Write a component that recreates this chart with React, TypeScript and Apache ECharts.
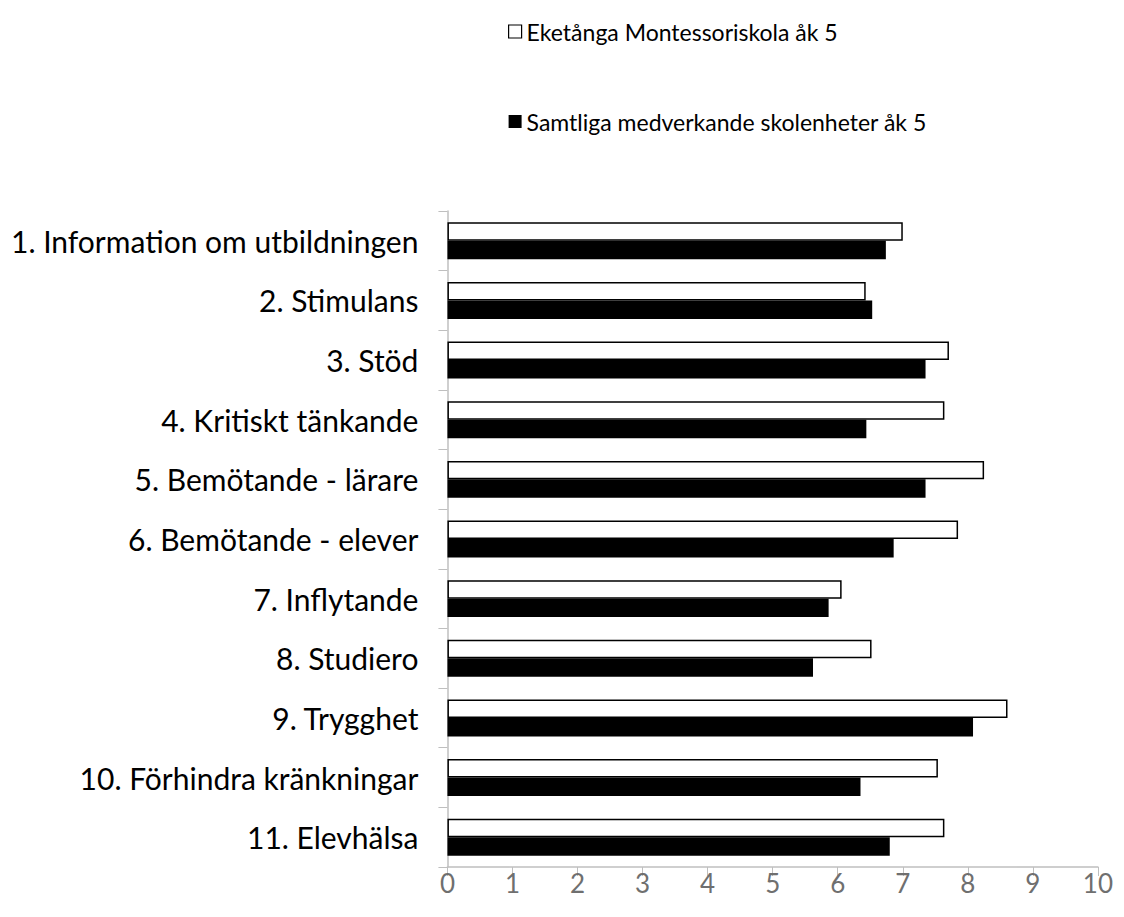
import React, { useEffect, useRef } from "react";
import * as echarts from "echarts";

const categories = [
  "1. Information om utbildningen",
  "2. Stimulans",
  "3. Stöd",
  "4. Kritiskt tänkande",
  "5. Bemötande - lärare",
  "6. Bemötande - elever",
  "7. Inflytande",
  "8. Studiero",
  "9. Trygghet",
  "10. Förhindra kränkningar",
  "11. Elevhälsa",
];
const schoolName = "Eketånga Montessoriskola åk 5";
const allName = "Samtliga medverkande skolenheter åk 5";
const schoolValues = [7.0, 6.43, 7.71, 7.64, 8.25, 7.85, 6.06, 6.52, 8.61, 7.54, 7.64];
const allValues = [6.74, 6.53, 7.35, 6.44, 7.35, 6.86, 5.86, 5.62, 8.08, 6.35, 6.8];
const xTicks = [0, 10];

export default function App() {
  const ref = useRef<HTMLDivElement>(null);
  useEffect(() => {
    if (!ref.current) return;
    const chart = echarts.init(ref.current, null, { renderer: "svg" });
    const font = "Lato, Open Sans, sans-serif";
    chart.setOption({
      animation: false,
      backgroundColor: "#ffffff",
      legend: {
        orient: "vertical",
        left: 500,
        top: 12,
        padding: 0,
        itemGap: 67,
        itemWidth: 13,
        itemHeight: 13,
        icon: "rect",
        textStyle: { fontFamily: font, fontSize: 23, color: "#000" },
        data: [
          { name: schoolName, itemStyle: { color: "#fff", borderColor: "#000", borderWidth: 1.2 } },
          { name: allName, itemStyle: { color: "#000" } },
        ],
      },
      grid: { left: 439, right: 11, top: 203, bottom: 42, containLabel: false },
      xAxis: {
        type: "value",
        min: xTicks[0],
        max: xTicks[1],
        interval: 1,
        axisLine: { show: true, lineStyle: { color: "#bfbfbf", width: 1.5 } },
        axisTick: { show: true, length: 9, lineStyle: { color: "#bfbfbf" } },
        splitLine: { show: false },
        axisLabel: { fontFamily: font, fontSize: 26, color: "#6f6f6f", margin: 3 },
      },
      yAxis: {
        type: "category",
        inverse: true,
        data: categories,
        axisLine: { show: true, lineStyle: { color: "#bfbfbf", width: 1.5 } },
        axisTick: { show: true, length: 9, lineStyle: { color: "#bfbfbf" } },
        axisLabel: { fontFamily: font, fontSize: 30, color: "#000", margin: 29 },
      },
      series: [
        {
          name: schoolName,
          type: "bar",
          data: schoolValues,
          barGap: "0%",
          barCategoryGap: "38%",
          itemStyle: { color: "#fff", borderColor: "#000", borderWidth: 1.5 },
        },
        {
          name: allName,
          type: "bar",
          data: allValues,
          itemStyle: { color: "#000" },
        },
      ],
    });
    return () => chart.dispose();
  }, []);
  return <div ref={ref} style={{ width: 1108, height: 901 }} />;
}
